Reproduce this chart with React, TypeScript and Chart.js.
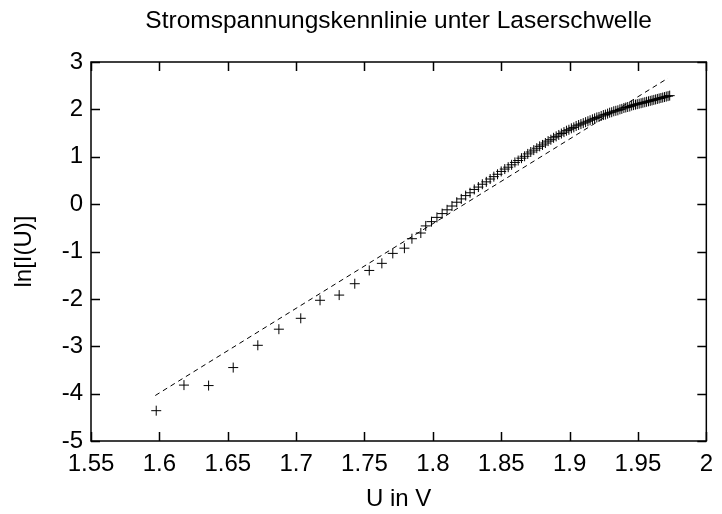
import React, { useEffect, useRef } from 'react';
import { Chart, registerables } from 'chart.js';

Chart.register(...registerables);

// Measured points: U in V and ln[I(U)]
const voltage = [
  1.5977, 1.618, 1.636, 1.654, 1.672, 1.6874, 1.7034, 1.7175, 1.7315, 1.7429,
  1.7535, 1.7627, 1.7707, 1.7792, 1.7847, 1.7912, 1.7948,
  1.799, 1.803, 1.8068, 1.8104, 1.814, 1.8175, 1.8208, 1.824, 1.8272, 1.8303,
  1.8333, 1.8362, 1.8391, 1.8419, 1.8446, 1.8473, 1.85, 1.8526, 1.8551, 1.8576,
  1.86, 1.8624, 1.8648, 1.8671, 1.8694, 1.8716, 1.8738, 1.876, 1.8781, 1.8802,
  1.8823, 1.8843, 1.8863, 1.8883, 1.8902, 1.8921, 1.894, 1.8959, 1.8977, 1.8995,
  1.9013, 1.9031, 1.9048, 1.9066, 1.9083, 1.91, 1.9117, 1.9134, 1.915, 1.9167,
  1.9183, 1.9199, 1.9215, 1.9231, 1.9247, 1.9262, 1.9278, 1.9293, 1.9308, 1.9323,
  1.9338, 1.9353, 1.9368, 1.9382, 1.9397, 1.9411, 1.9425, 1.944, 1.9454, 1.9468,
  1.9482, 1.9495, 1.9509, 1.9523, 1.9536, 1.955, 1.9563, 1.9577, 1.959, 1.9603,
  1.9616, 1.9629, 1.9642, 1.9655, 1.9668, 1.9681, 1.9694, 1.9707, 1.972, 1.9732,
];
const lnCurrent = [
  -4.36, -3.82, -3.83, -3.45, -2.98, -2.64, -2.41, -2.03, -1.92, -1.68,
  -1.4, -1.25, -1.04, -0.93, -0.73, -0.61, -0.46,
  -0.37, -0.28, -0.2, -0.12, -0.04, 0.04, 0.11, 0.18, 0.24, 0.31,
  0.36, 0.42, 0.47, 0.53, 0.58, 0.63, 0.69, 0.74, 0.78, 0.83,
  0.88, 0.92, 0.97, 1.01, 1.06, 1.1, 1.14, 1.18, 1.22, 1.25,
  1.29, 1.33, 1.36, 1.4, 1.43, 1.46, 1.49, 1.52, 1.55, 1.57,
  1.6, 1.62, 1.65, 1.67, 1.69, 1.71, 1.73, 1.75, 1.77, 1.79,
  1.81, 1.83, 1.84, 1.86, 1.88, 1.89, 1.91, 1.93, 1.94, 1.96,
  1.97, 1.98, 2.0, 2.01, 2.03, 2.04, 2.05, 2.06, 2.08, 2.09,
  2.1, 2.11, 2.12, 2.13, 2.14, 2.15, 2.16, 2.17, 2.18, 2.19,
  2.2, 2.21, 2.22, 2.23, 2.24, 2.25, 2.26, 2.27, 2.28, 2.29,
];

// Linear fit (dashed line) endpoints
const fitVoltage = [1.597, 1.972];
const fitLnCurrent = [-4.04, 2.66];

const xTicks = [1.55, 1.6, 1.65, 1.7, 1.75, 1.8, 1.85, 1.9, 1.95, 2];
const yTicks = [-5, -4, -3, -2, -1, 0, 1, 2, 3];

const titleText = 'Stromspannungskennlinie unter Laserschwelle';
const xLabel = 'U in V';
const yLabel = 'ln[I(U)]';

const FONT = "'Liberation Sans', Arial, Helvetica, sans-serif";

const framePlugin = {
  id: 'gnuplotFrame',
  afterDraw(chart: any) {
    const { ctx, chartArea, scales } = chart;
    const { left, right, top, bottom } = chartArea;
    const L = 9;
    ctx.save();
    ctx.strokeStyle = '#000';
    ctx.lineWidth = 1.5;
    ctx.beginPath();
    scales.x.ticks.forEach((t: any) => {
      const px = Math.round(scales.x.getPixelForValue(t.value)) + 0.5;
      ctx.moveTo(px, bottom);
      ctx.lineTo(px, bottom - L);
      ctx.moveTo(px, top);
      ctx.lineTo(px, top + L);
    });
    scales.y.ticks.forEach((t: any) => {
      const py = Math.round(scales.y.getPixelForValue(t.value)) + 0.5;
      ctx.moveTo(left, py);
      ctx.lineTo(left + L, py);
      ctx.moveTo(right, py);
      ctx.lineTo(right - L, py);
    });
    ctx.stroke();
    ctx.strokeRect(left, top, right - left, bottom - top);
    ctx.restore();
  },
};

export default function App() {
  const ref = useRef<HTMLCanvasElement | null>(null);

  useEffect(() => {
    if (!ref.current) return;
    const chart = new Chart(ref.current, {
      type: 'scatter',
      data: {
        datasets: [
          {
            label: 'fit',
            data: fitVoltage.map((u, i) => ({ x: u, y: fitLnCurrent[i] })),
            showLine: true,
            borderColor: '#000',
            borderWidth: 1,
            borderDash: [5, 4],
            pointRadius: 0,
            fill: false,
          },
          {
            label: 'data',
            data: voltage.map((u, i) => ({ x: u, y: lnCurrent[i] })),
            pointStyle: 'cross',
            pointRadius: 5,
            pointBorderWidth: 1,
            borderColor: '#000',
            backgroundColor: '#000',
            showLine: false,
          },
        ],
      },
      plugins: [framePlugin],
      options: {
        animation: false,
        responsive: false,
        maintainAspectRatio: false,
        layout: { padding: { left: 0, right: 11, top: 0, bottom: 0 } },
        plugins: {
          legend: { display: false },
          tooltip: { enabled: false },
          title: {
            display: true,
            fullSize: false,
            text: titleText,
            color: '#000',
            font: { family: FONT, size: 24.5, weight: 'normal', lineHeight: 1.2 },
            padding: { top: 7, bottom: 25.6 },
          },
        },
        scales: {
          x: {
            type: 'linear',
            min: 1.55,
            max: 2,
            afterBuildTicks: (scale: any) => {
              scale.ticks = xTicks.map((v) => ({ value: v }));
            },
            afterFit: (scale: any) => {
              scale.height = 73;
            },
            ticks: {
              color: '#000',
              font: { family: FONT, size: 24 },
              padding: 9,
              maxRotation: 0,
              autoSkip: false,
              callback: (v: any) => String(Number(Number(v).toFixed(2))),
            },
            grid: { display: false, drawTicks: false },
            border: { display: false },
            title: {
              display: true,
              text: xLabel,
              color: '#000',
              font: { family: FONT, size: 24 },
              padding: { top: 0, bottom: 0 },
            },
          },
          y: {
            type: 'linear',
            min: -5,
            max: 3,
            afterBuildTicks: (scale: any) => {
              scale.ticks = yTicks.map((v) => ({ value: v }));
            },
            afterFit: (scale: any) => {
              scale.width = 91;
            },
            ticks: {
              color: '#000',
              font: { family: FONT, size: 24 },
              padding: 8,
              autoSkip: false,
              callback: (v: any) => String(v),
            },
            grid: { display: false, drawTicks: false },
            border: { display: false },
            title: {
              display: true,
              text: yLabel,
              color: '#000',
              font: { family: FONT, size: 24 },
              padding: { top: 10, bottom: 0 },
            },
          },
        },
      },
    });
    return () => chart.destroy();
  }, []);

  return (
    <div style={{ position: 'fixed', left: 0, top: 0, width: 722, height: 514, background: '#fff' }}>
      <canvas ref={ref} width={722} height={514} style={{ display: 'block' }} />
    </div>
  );
}
